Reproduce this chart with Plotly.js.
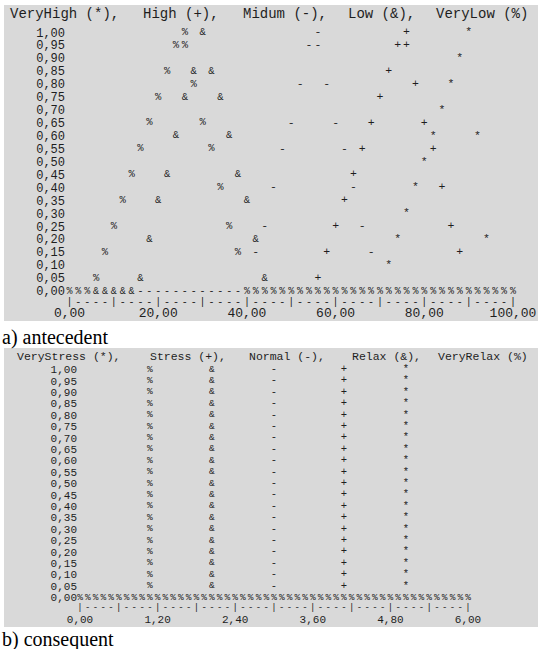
<!DOCTYPE html>
<html>
<head>
<meta charset="utf-8">
<script src="https://cdn.plot.ly/plotly-3.0.1.min.js"></script>
<style>html,body{margin:0;padding:0;background:#fff;}#chart{width:538px;height:649px;}</style>
</head>
<body>
<div id="chart"></div>
<script>
// ---------- DATA ----------
// a) antecedent : x in units (0..100), membership level y
const anteLabels = ["VeryHigh (*),", "High (+),", "Midum (-),", "Low (&),", "VeryLow (%)"];
const veryLowX = [6, 8, 10, 12, 14, 16, 18, 20, 22, 24, 26, 26, 28, 30, 32, 34, 36, 38];
const veryLowY = [0.05, 0.15, 0.25, 0.35, 0.45, 0.55, 0.65, 0.75, 0.85, 0.95, 1.00, 0.95, 0.80, 0.65, 0.55, 0.40, 0.25, 0.15];
const lowX = [16, 18, 20, 22, 24, 26, 28, 30, 32, 34, 36, 38, 40, 42, 44];
const lowY = [0.05, 0.20, 0.35, 0.45, 0.60, 0.75, 0.85, 1.00, 0.85, 0.75, 0.60, 0.45, 0.35, 0.20, 0.05];
const midumX = [42, 44, 46, 48, 50, 52, 54, 56, 56, 58, 60, 62, 64, 66, 68];
const midumY = [0.15, 0.25, 0.40, 0.55, 0.65, 0.80, 0.95, 1.00, 0.95, 0.80, 0.65, 0.55, 0.40, 0.25, 0.15];
const highX = [56, 58, 60, 62, 64, 66, 68, 70, 72, 74, 76, 76, 78, 80, 82, 84, 86, 88];
const highY = [0.05, 0.15, 0.25, 0.35, 0.45, 0.55, 0.65, 0.75, 0.85, 0.95, 1.00, 0.95, 0.80, 0.65, 0.55, 0.40, 0.25, 0.15];
const veryHighX = [72, 74, 76, 78, 80, 82, 84, 86, 88, 90, 92, 94];
const veryHighY = [0.10, 0.20, 0.30, 0.40, 0.50, 0.60, 0.70, 0.80, 0.90, 1.00, 0.60, 0.20];
// zero row of the antecedent (one character per 2-unit column, 0..100)
const anteZeroRow = "%%%&&&&&------------%%%%%%%%%%%%%%%%%%%%%%%%%%%%%%%";
const anteColStep = 2;
const anteXTicks = [0, 20, 40, 60, 80, 100];

// b) consequent : singleton positions, membership levels
const consLabels = ["VeryStress (*),", "Stress (+),", "Normal (-),", "Relax (&),", "VeryRelax (%)"];
const consLevels = [0.05, 0.10, 0.15, 0.20, 0.25, 0.30, 0.35, 0.40, 0.45, 0.50, 0.55, 0.60, 0.65, 0.70, 0.75, 0.80, 0.85, 0.90, 0.95, 1.00];
const veryRelaxX = 1.08;
const relaxX = 2.04;
const normalX = 3.00;
const stressX = 4.08;
const veryStressX = 5.04;
const consZeroRow = "%%%%%%%%%%%%%%%%%%%%%%%%%%%%%%%%%%%%%%%%%%%%%%%%%%%";
const consColStep = 0.12;
const consXTicks = [0, 1.2, 2.4, 3.6, 4.8, 6.0];

const yTicks = [0, 0.05, 0.10, 0.15, 0.20, 0.25, 0.30, 0.35, 0.40, 0.45, 0.50, 0.55, 0.60, 0.65, 0.70, 0.75, 0.80, 0.85, 0.90, 0.95, 1.00];
const rulerStr = "|----|----|----|----|----|----|----|----|----|----|";

// ---------- LAYOUT GEOMETRY (pixels) ----------
const W = 538, H = 649;
const PX = p => p / W, PY = p => 1 - p / H;
const MONO = "Liberation Mono, DejaVu Sans Mono, monospace";
const INK = "#1e1e1e";
const PANEL = "#d9d9d9";

// top panel pixel anchors
const T = {L: 66, R: 530, Tp: 22, B: 303, x0px: 69.5, x1px: 513, xmax: 100, y1px: 32.3, y0px: 291, rulerPx: 302};
// bottom panel pixel anchors
const Bt = {L: 78, R: 535, Tp: 363, B: 611, x0px: 80, x1px: 468, xmax: 6, y1px: 369.3, y0px: 597.3, rulerPx: 607.5};

function ranges(g) {
  const sx = (g.x1px - g.x0px) / g.xmax;
  const sy = (g.y0px - g.y1px);
  return {
    xr: [(g.L - g.x0px) / sx, g.xmax + (g.R - g.x1px) / sx],
    yr: [-(g.B - g.y0px) / sy, 1 + (g.y1px - g.Tp) / sy],
    ruler: -(g.rulerPx - g.y0px) / sy
  };
}
const rt = ranges(T), rb = ranges(Bt);

function textTrace(x, y, chars, size, xa, ya) {
  return {
    type: "scatter", mode: "text", x: x, y: y,
    text: Array.isArray(chars) ? chars : x.map(() => chars),
    textposition: "middle center",
    textfont: {family: MONO, size: size, color: INK},
    xaxis: xa, yaxis: ya, cliponaxis: false, hoverinfo: "skip", showlegend: false
  };
}

const traces = [];
const TS = 11.5, BS = 10.5;
// antecedent zero row & ruler
const aChars = anteZeroRow.split("");
traces.push(textTrace(aChars.map((c, i) => i * anteColStep), aChars.map(() => 0), aChars, 10, "x", "y"));
const rChars = rulerStr.split("");
traces.push(textTrace(rChars.map((c, i) => i * anteColStep), rChars.map(() => rt.ruler), rChars, 10, "x", "y"));
traces.push(textTrace(veryHighX, veryHighY, "*", TS, "x", "y"));
traces.push(textTrace(highX, highY, "+", TS, "x", "y"));
traces.push(textTrace(midumX, midumY, "-", TS, "x", "y"));
traces.push(textTrace(lowX, lowY, "&", TS - 1, "x", "y"));
traces.push(textTrace(veryLowX, veryLowY, "%", TS - 1, "x", "y"));

// consequent
const cChars = consZeroRow.split("");
traces.push(textTrace(cChars.map((c, i) => i * consColStep), cChars.map(() => 0), cChars, 9.5, "x2", "y2"));
traces.push(textTrace(rChars.map((c, i) => i * consColStep), rChars.map(() => rb.ruler), rChars, 9, "x2", "y2"));
traces.push(textTrace(consLevels.map(() => veryStressX), consLevels, "*", BS, "x2", "y2"));
traces.push(textTrace(consLevels.map(() => stressX), consLevels, "+", BS, "x2", "y2"));
traces.push(textTrace(consLevels.map(() => normalX), consLevels, "-", BS, "x2", "y2"));
traces.push(textTrace(consLevels.map(() => relaxX), consLevels, "&", BS - 1, "x2", "y2"));
traces.push(textTrace(consLevels.map(() => veryRelaxX), consLevels, "%", BS - 1, "x2", "y2"));

function axisX(g, r, ticks, anchor, size) {
  return {domain: [PX(g.L), PX(g.R)], range: r.xr, anchor: anchor, showgrid: false, zeroline: false,
    showline: false, ticks: "", tickvals: ticks, tickformat: ".2f", fixedrange: true,
    tickfont: {family: MONO, size: size, color: INK}};
}
function axisY(g, r, anchor, size) {
  return {domain: [PY(g.B), PY(g.Tp)], range: r.yr, anchor: anchor, showgrid: false, zeroline: false,
    showline: false, ticks: "", tickvals: yTicks, tickformat: ".2f", fixedrange: true,
    tickfont: {family: MONO, size: size, color: INK}};
}

const anteHeaderPx = [8, 141, 241, 346, 434];
const consHeaderPx = [15, 148, 247, 350, 436];
const annotations = [];
anteLabels.forEach((t, i) => annotations.push({text: t, xref: "paper", yref: "paper", x: PX(anteHeaderPx[i]), y: PY(14),
  xanchor: "left", yanchor: "middle", showarrow: false, font: {family: MONO, size: 14, color: INK}}));
consLabels.forEach((t, i) => annotations.push({text: t, xref: "paper", yref: "paper", x: PX(consHeaderPx[i]), y: PY(356),
  xanchor: "left", yanchor: "middle", showarrow: false, font: {family: MONO, size: 11.5, color: INK}}));
annotations.push({text: "a) antecedent", xref: "paper", yref: "paper", x: PX(0), y: PY(337), xanchor: "left", yanchor: "middle",
  showarrow: false, font: {family: "Liberation Serif, Times New Roman, serif", size: 20, color: "#000"}});
annotations.push({text: "b) consequent", xref: "paper", yref: "paper", x: PX(0), y: PY(639), xanchor: "left", yanchor: "middle",
  showarrow: false, font: {family: "Liberation Serif, Times New Roman, serif", size: 20, color: "#000"}});

const layout = {
  width: W, height: H, margin: {l: 0, r: 0, t: 0, b: 0}, autosize: false,
  paper_bgcolor: "#ffffff", plot_bgcolor: "rgba(0,0,0,0)",
  separators: ",.", showlegend: false,
  xaxis: axisX(T, rt, anteXTicks, "y", 13),
  yaxis: axisY(T, rt, "x", 12),
  xaxis2: axisX(Bt, rb, consXTicks, "y2", 11),
  yaxis2: axisY(Bt, rb, "x2", 11),
  shapes: [
    {type: "rect", xref: "paper", yref: "paper", x0: PX(4), x1: 1, y0: PY(321), y1: PY(5), fillcolor: PANEL, line: {width: 0}, layer: "below"},
    {type: "rect", xref: "paper", yref: "paper", x0: PX(4), x1: 1, y0: PY(627), y1: PY(348), fillcolor: PANEL, line: {width: 0}, layer: "below"}
  ],
  annotations: annotations
};

Plotly.newPlot("chart", traces, layout, {staticPlot: true, displayModeBar: false});
</script>
</body>
</html>
